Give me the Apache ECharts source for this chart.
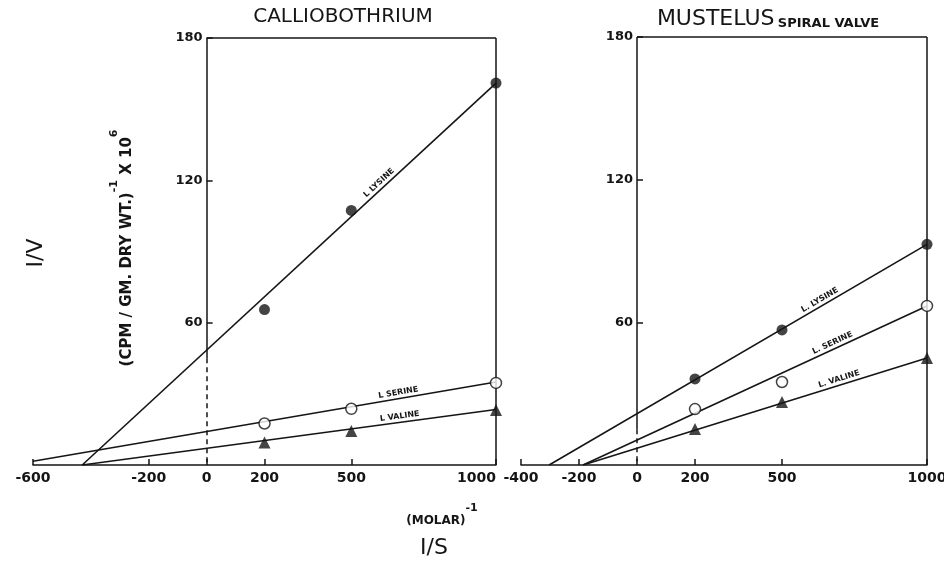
<!DOCTYPE html>
<html>
<head>
<meta charset="utf-8">
<script src="https://cdn.jsdelivr.net/npm/echarts@6/dist/echarts.min.js"></script>
<style>
  html, body { margin: 0; padding: 0; background: #ffffff; }
  #chart { width: 944px; height: 563px; }
</style>
</head>
<body>
<div id="chart"></div>
<script>
// Substrate concentrations (1/S, molar^-1) at which uptake was measured
const substrateX = [200, 500, 1000];

// Calliobothrium: 1/V values
const calLysine = [65.5, 107.3, 161];
const calSerine = [17.5, 23.7, 34.6];
const calValine = [9.5, 14.3, 23.2];
// Calliobothrium: fitted lines, [1/S, 1/V] end points
const calLysineFit = [[-430, 0], [1000, 161]];
const calSerineFit = [[-600, 1.6], [1000, 35]];
const calValineFit = [[-430, 0], [1000, 23.4]];

// Mustelus spiral valve: 1/V values
const musLysine = [36.2, 56.8, 92.8];
const musSerine = [23.5, 34.9, 66.9];
const musValine = [15.1, 26.5, 45];
// Mustelus spiral valve: fitted lines
const musLysineFit = [[-303, 0], [1000, 92.8]];
const musSerineFit = [[-186, 0], [1000, 66.9]];
const musValineFit = [[-186, 0], [1000, 45]];

// Tick labels
const calXTicks = [-600, -200, 0, 200, 500, 1000];
const musXTicks = [-400, -200, 0, 200, 500, 1000];
const yTicks = [60, 120, 180];

const INK = '#151515';
const FONT = '"DejaVu Sans", "Liberation Sans", sans-serif';

function pts(ys) { return substrateX.map((x, i) => [x, ys[i]]); }

function xAxisFor(gridIndex, min, ticks, alignMax) {
  return {
    type: 'value', gridIndex, min, max: 1000,
    axisLine: { onZero: false, lineStyle: { color: INK, width: 1.5 } },
    axisTick: { inside: true, length: 6, customValues: ticks, lineStyle: { color: INK, width: 1.5 } },
    axisLabel: {
      customValues: ticks, margin: 6, color: INK, fontFamily: FONT,
      fontWeight: 'bold', fontSize: 14, alignMaxLabel: alignMax,
      formatter: v => (v < 0 ? '-' + (-v) : String(v))
    },
    splitLine: { show: false }
  };
}

function yAxisFor(gridIndex) {
  return {
    type: 'value', gridIndex, min: 0, max: 180, position: 'left', offset: 0,
    axisLine: { show: false, onZero: false },
    axisTick: { inside: true, length: 6, customValues: yTicks, lineStyle: { color: INK, width: 1.5 } },
    axisLabel: {
      customValues: yTicks, margin: 4, color: INK, fontFamily: FONT,
      fontWeight: 'bold', fontSize: 13
    },
    splitLine: { show: false }
  };
}

// Box around the 0..1000 region; lower part of the 1/S = 0 line is dashed
function frameLines(dashBelow) {
  const solid = { color: INK, width: 1.5, type: 'solid' };
  return {
    symbol: 'none', silent: true, label: { show: false },
    lineStyle: solid,
    emphasis: { disabled: true },
    data: [
      [{ coord: [0, 180] }, { coord: [1000, 180] }],
      [{ coord: [1000, 180] }, { coord: [1000, 0] }],
      [{ coord: [0, 180] }, { coord: [0, dashBelow] }],
      [{ coord: [0, dashBelow], lineStyle: { color: INK, width: 1.5, type: [5, 4] } }, { coord: [0, 0] }]
    ]
  };
}

function fitSeries(idx, data, extra) {
  return Object.assign({
    type: 'line', xAxisIndex: idx, yAxisIndex: idx, data,
    symbol: 'none', silent: true, z: 2,
    lineStyle: { color: INK, width: 1.6 }
  }, extra || {});
}

function dotSeries(idx, ys, kind) {
  const base = { type: 'scatter', xAxisIndex: idx, yAxisIndex: idx, data: pts(ys), z: 5, silent: true };
  if (kind === 'filled') return Object.assign(base, { symbol: 'circle', symbolSize: 11, itemStyle: { color: INK } });
  if (kind === 'open') return Object.assign(base, { symbol: 'circle', symbolSize: 11, itemStyle: { color: '#ffffff', borderColor: INK, borderWidth: 1.5 } });
  return Object.assign(base, { symbol: 'triangle', symbolSize: 12, itemStyle: { color: INK } });
}

const grids = [
  { left: 33, right: 448, top: 38, bottom: 98, outerBoundsMode: 'none', containLabel: false },
  { left: 521, right: 17, top: 37, bottom: 98, outerBoundsMode: 'none', containLabel: false }
];

const option = {
  animation: false,
  backgroundColor: '#ffffff',
  grid: grids,
  xAxis: [xAxisFor(0, -600, calXTicks, 'right'), xAxisFor(1, -400, musXTicks, 'center')],
  yAxis: [yAxisFor(0), yAxisFor(1)],
  series: [
    fitSeries(0, calLysineFit, { markLine: frameLines(45) }),
    fitSeries(0, calSerineFit),
    fitSeries(0, calValineFit),
    dotSeries(0, calLysine, 'filled'),
    dotSeries(0, calSerine, 'open'),
    dotSeries(0, calValine, 'tri'),
    fitSeries(1, musLysineFit, { markLine: frameLines(15) }),
    fitSeries(1, musSerineFit),
    fitSeries(1, musValineFit),
    dotSeries(1, musLysine, 'filled'),
    dotSeries(1, musSerine, 'open'),
    dotSeries(1, musValine, 'tri')
  ]
};

const chart = echarts.init(document.getElementById('chart'), null, { renderer: 'canvas' });
chart.setOption(option);

// Move each 1/V axis onto the 1/S = 0 position of its panel
const yOffsets = [0, 1].map(i => {
  const px = chart.convertToPixel({ xAxisIndex: i }, 0);
  return -(px - grids[i].left);
});
chart.setOption({ yAxis: [{ offset: yOffsets[0] }, { offset: yOffsets[1] }] });

// Small caption written along a fitted line
function lineLabel(gridIndex, fit, atX, text) {
  const [[x1, y1], [x2, y2]] = fit;
  const y = y1 + (atX - x1) / (x2 - x1) * (y2 - y1);
  const p = chart.convertToPixel({ gridIndex }, [atX, y]);
  const a = chart.convertToPixel({ gridIndex }, fit[0]);
  const b = chart.convertToPixel({ gridIndex }, fit[1]);
  const ang = Math.atan2(a[1] - b[1], b[0] - a[0]);
  const off = 6;
  return {
    type: 'text', silent: true, z: 10,
    x: p[0] - off * Math.sin(ang), y: p[1] - off * Math.cos(ang), rotation: ang,
    style: {
      text, x: 0, y: 0, fill: INK,
      fontFamily: FONT, fontWeight: 'bold', fontSize: 8,
      align: 'center', verticalAlign: 'middle', textAlign: 'center', textVerticalAlign: 'middle'
    }
  };
}

function plainText(x, y, text, size, weight, extra) {
  return Object.assign({
    type: 'text', silent: true, x, y,
    style: {
      text, x: 0, y: 0, fill: INK, fontFamily: FONT, fontSize: size, fontWeight: weight,
      align: 'center', verticalAlign: 'middle', textAlign: 'center', textVerticalAlign: 'middle'
    }
  }, extra || {});
}

const supStyle = { fontFamily: FONT, fontWeight: 'bold', fontSize: 11, fill: INK, color: INK, verticalAlign: 'top', lineHeight: 10 };

chart.setOption({
  graphic: [
    lineLabel(0, calLysineFit, 610, 'L LYSINE'),
    lineLabel(0, calSerineFit, 666, 'L SERINE'),
    lineLabel(0, calValineFit, 670, 'L VALINE'),
    lineLabel(1, musLysineFit, 641, 'L. LYSINE'),
    lineLabel(1, musSerineFit, 683, 'L. SERINE'),
    lineLabel(1, musValineFit, 703, 'L. VALINE'),

    plainText(343, 17, 'CALLIOBOTHRIUM', 20, 'normal'),
    {
      type: 'text', silent: true, x: 768, y: 18,
      style: {
        text: '{big|MUSTELUS} {small|SPIRAL VALVE}', x: 0, y: 0,
        align: 'center', verticalAlign: 'middle', textAlign: 'center', textVerticalAlign: 'middle',
        rich: {
          big: { fontFamily: FONT, fontSize: 22, fontWeight: 'normal', fill: INK, color: INK, verticalAlign: 'bottom', lineHeight: 25 },
          small: { fontFamily: FONT, fontSize: 13, fontWeight: 'bold', fill: INK, color: INK, verticalAlign: 'bottom', lineHeight: 18 }
        }
      }
    },

    plainText(36, 253, 'I/V', 22, 'normal', { rotation: Math.PI / 2 }),
    {
      type: 'text', silent: true, x: 122, y: 248, rotation: Math.PI / 2,
      style: {
        text: '{m|(CPM / GM. DRY WT.)}{s|-1}{m| X 10}{s|6}', x: 0, y: 0,
        align: 'center', verticalAlign: 'middle', textAlign: 'center', textVerticalAlign: 'middle',
        rich: {
          m: { fontFamily: FONT, fontWeight: 'bold', fontSize: 15, fill: INK, color: INK, verticalAlign: 'bottom', lineHeight: 26 },
          s: supStyle
        }
      }
    },

    {
      type: 'text', silent: true, x: 442, y: 515,
      style: {
        text: '{m|(MOLAR)}{s|-1}', x: 0, y: 0,
        align: 'center', verticalAlign: 'middle', textAlign: 'center', textVerticalAlign: 'middle',
        rich: {
          m: { fontFamily: FONT, fontWeight: 'bold', fontSize: 12, fill: INK, color: INK, verticalAlign: 'bottom', lineHeight: 24 },
          s: supStyle
        }
      }
    },
    plainText(434, 548, 'I/S', 22, 'normal')
  ]
});
</script>
</body>
</html>
